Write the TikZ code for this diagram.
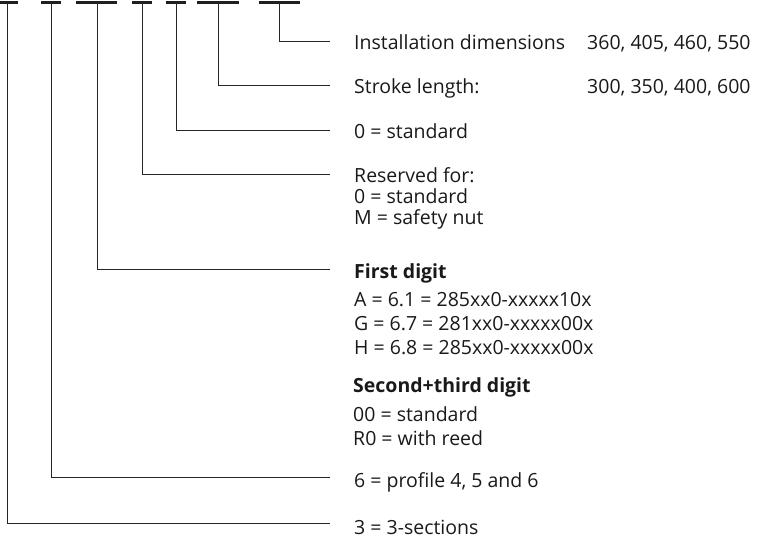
\documentclass[tikz,border=0pt]{standalone}
\usepackage{fontspec}
\setmainfont{Open Sans}
\begin{document}
\begin{tikzpicture}[x=1pt,y=-1pt,
  bar/.style={line width=3pt, draw=black!88},
  lead/.style={line width=0.9pt, draw=black!85},
  lbl/.style={anchor=base west, inner sep=0pt, font=\fontsize{19.5}{23}\selectfont, text=black!90},
  hd/.style={lbl, font=\fontsize{19.5}{23}\selectfont\bfseries}]
\useasboundingbox (0,0) rectangle (762,539);
% code bars
\draw[bar] (0,2.5) -- (18,2.5);
\draw[bar] (41,2.5) -- (61,2.5);
\draw[bar] (76,2.5) -- (117,2.5);
\draw[bar] (132,2.5) -- (152,2.5);
\draw[bar] (166,2.5) -- (186,2.5);
\draw[bar] (197,2.5) -- (239,2.5);
\draw[bar] (259,2.5) -- (300,2.5);
% bar anchors
\coordinate (b1) at (7.7,2.5);
\coordinate (b2) at (51,2.5);
\coordinate (b3) at (97,2.5);
\coordinate (b4) at (142,2.5);
\coordinate (b5) at (176,2.5);
\coordinate (b6) at (218,2.5);
\coordinate (b7) at (279,2.5);
% line ends
\coordinate (e1) at (330,523);
\coordinate (e2) at (330,477);
\coordinate (e3) at (330,269);
\coordinate (e4) at (330,174);
\coordinate (e5) at (330,130);
\coordinate (e6) at (330,85);
\coordinate (e7) at (330,41.7);
% leaders
\foreach \i in {1,...,7} {\draw[lead] (b\i) |- (e\i);}
% labels
\node[lbl] (t7) at (354,49.5) {Installation dimensions};
\node[lbl] (n7) at (587,49.5) {360, 405, 460, 550};
\node[lbl] (t6) at (354,93) {Stroke length:};
\node[lbl] (n6) at (587,93) {300, 350, 400, 600};
\node[lbl] (t5) at (354,138) {0 = standard};
\node[lbl] (t4a) at (354,182) {Reserved for:};
\node[lbl] (t4b) at (354,203) {0 = standard};
\node[lbl] (t4c) at (354,224) {M = safety nut};
\node[hd] (t3a) at (354,278) {First digit};
\node[lbl] (t3b) at (354,306) {A = 6.1 = 285xx0-xxxxx10x};
\node[lbl] (t3c) at (354,330) {G = 6.7 = 281xx0-xxxxx00x};
\node[lbl] (t3d) at (354,354) {H = 6.8 = 285xx0-xxxxx00x};
\node[hd] (t3e) at (353,392) {Second+third digit};
\node[lbl] (t3f) at (353,421) {00 = standard};
\node[lbl] (t3g) at (353,445) {R0 = with reed};
\node[lbl] (t2) at (354,487) {6 = profile 4, 5 and 6};
\node[lbl] (t1) at (354,534) {3 = 3-sections};
\end{tikzpicture}
\end{document}
